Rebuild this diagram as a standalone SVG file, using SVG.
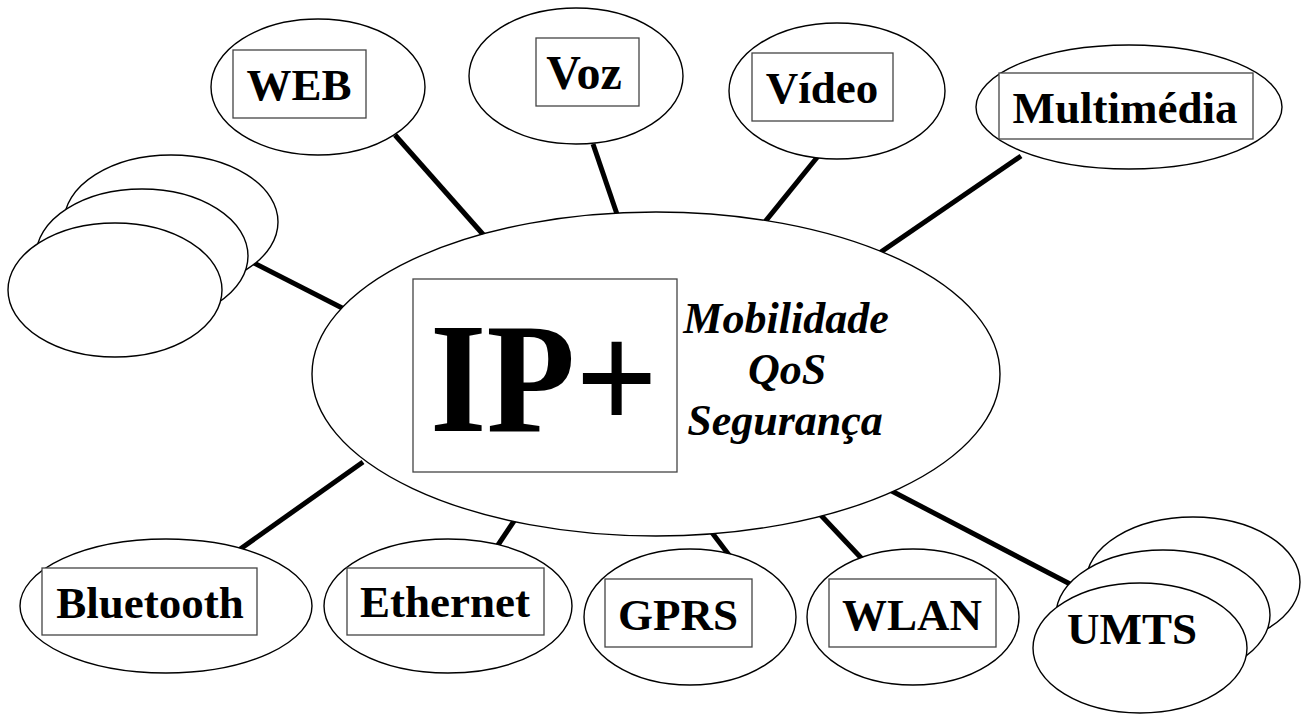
<svg xmlns="http://www.w3.org/2000/svg" width="1305" height="715" viewBox="0 0 1305 715">
<style>
.bg{fill:#fff}
.el{fill:#fff;stroke:#000;stroke-width:1.4}
.bx{fill:#fff;stroke:#444;stroke-width:1.3}
.lbl{font-family:"Liberation Serif","Times New Roman",serif;font-weight:bold;font-size:45px;fill:#000;text-anchor:middle}
.it{font-family:"Liberation Serif","Times New Roman",serif;font-weight:bold;font-style:italic;font-size:44px;fill:#000;text-anchor:middle}
.big{font-family:"Liberation Serif","Times New Roman",serif;font-weight:bold;font-size:156px;fill:#000}
.cn line{stroke:#000;stroke-width:5}
</style>
<rect class="bg" x="0" y="0" width="1305" height="715"/>
<g id="connectors" class="cn">
<line x1="395" y1="135" x2="488" y2="240"/>
<line x1="593" y1="144" x2="619" y2="220"/>
<line x1="819" y1="155" x2="760" y2="228"/>
<line x1="1021" y1="156" x2="875" y2="256"/>
<line x1="250" y1="261" x2="350" y2="312"/>
<line x1="363" y1="462" x2="236" y2="552"/>
<line x1="516" y1="518" x2="496" y2="548"/>
<line x1="710" y1="530" x2="732" y2="559"/>
<line x1="816" y1="510" x2="864" y2="561"/>
<line x1="884" y1="487" x2="1072" y2="585"/>
</g>
<g id="core">
<ellipse class="el" cx="656" cy="374" rx="344" ry="162"/>
<rect class="bx" x="413" y="279" width="264" height="193"/>
<text class="big" x="430" y="431" textLength="228" lengthAdjust="spacingAndGlyphs">IP+</text>
<text class="it" x="786" y="333">Mobilidade</text>
<text class="it" x="787" y="384">QoS</text>
<text class="it" x="785" y="435">Segurança</text>
</g>
<g id="node-web">
<ellipse class="el" cx="318" cy="87" rx="107" ry="68"/>
<rect class="bx" x="233" y="50" width="133" height="68"/>
<text class="lbl" x="299" y="100">WEB</text>
</g>
<g id="node-voz">
<ellipse class="el" cx="576" cy="76" rx="107" ry="68"/>
<rect class="bx" x="536" y="38" width="103" height="68"/>
<text class="lbl" x="584" y="89" style="font-size:48px">Voz</text>
</g>
<g id="node-video">
<ellipse class="el" cx="837" cy="91" rx="108" ry="68"/>
<rect class="bx" x="752" y="53" width="141" height="68"/>
<text class="lbl" x="822" y="103">Vídeo</text>
</g>
<g id="node-multimedia">
<ellipse class="el" cx="1129" cy="107" rx="153" ry="62"/>
<rect class="bx" x="999" y="73" width="254" height="66"/>
<text class="lbl" x="1125" y="123">Multimédia</text>
</g>
<g id="node-other">
<ellipse class="el" cx="171" cy="222" rx="107" ry="67"/>
<ellipse class="el" cx="142" cy="256" rx="106" ry="67"/>
<ellipse class="el" cx="115" cy="290" rx="107" ry="67"/>
</g>
<g id="node-bluetooth">
<ellipse class="el" cx="166" cy="606" rx="146" ry="67"/>
<rect class="bx" x="42" y="568" width="215" height="67"/>
<text class="lbl" x="150" y="618">Bluetooth</text>
</g>
<g id="node-ethernet">
<ellipse class="el" cx="448" cy="606" rx="124" ry="67"/>
<rect class="bx" x="347" y="568" width="197" height="67"/>
<text class="lbl" x="445" y="617">Ethernet</text>
</g>
<g id="node-gprs">
<ellipse class="el" cx="690" cy="617" rx="106" ry="68"/>
<rect class="bx" x="605" y="579" width="147" height="68"/>
<text class="lbl" x="678" y="630">GPRS</text>
</g>
<g id="node-wlan">
<ellipse class="el" cx="913" cy="617" rx="106" ry="68"/>
<rect class="bx" x="829" y="579" width="167" height="68"/>
<text class="lbl" x="912" y="630">WLAN</text>
</g>
<g id="node-umts">
<ellipse class="el" cx="1193" cy="582" rx="107" ry="65"/>
<ellipse class="el" cx="1163" cy="615" rx="107" ry="65"/>
<ellipse class="el" cx="1140" cy="648" rx="107" ry="65"/>
<text class="lbl" x="1132" y="644">UMTS</text>
</g>
</svg>
